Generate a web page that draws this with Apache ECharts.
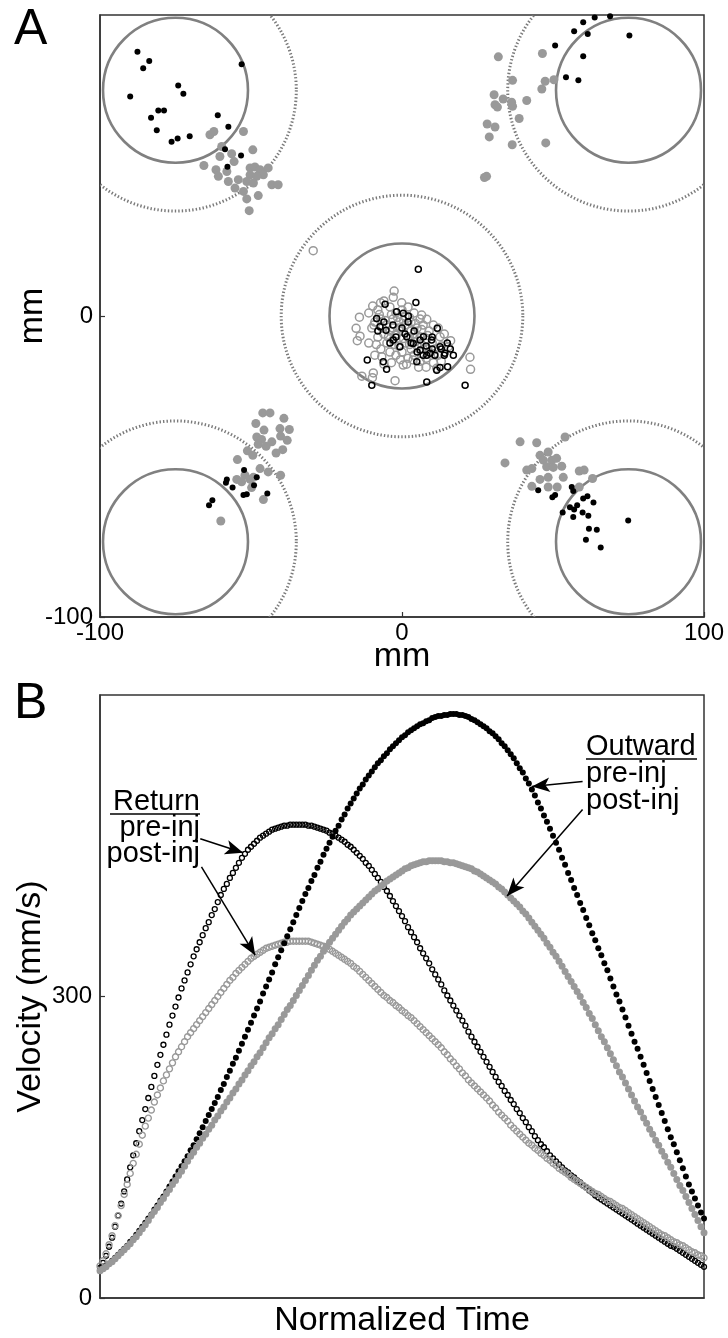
<!DOCTYPE html>
<html>
<head>
<meta charset="utf-8">
<script src="https://cdn.jsdelivr.net/npm/echarts@6.0.0/dist/echarts.min.js"></script>
<style>
    html, body { margin: 0; padding: 0; background: #fff; }
    #chart { width: 728px; height: 1338px; }
</style>
</head>
<body>
<div id="chart"></div>
<script>
// ---- panel A: targets (mm) ----
var targetX = [0, -75, 75, -75, 75];
var targetY = [0, 75, 75, -75, -75];
var targetRadius = 24;
var windowRadius = 40;

// movement endpoints at the outer targets, pre-injury (black) and post-injury (gray)
var outerPre = [
    [-87.6, 87.8], [-83.7, 84.7], [-85.7, 82.3], [-53.1, 83.6], [-74.1, 76.6], [-72.4, 73.8], [-90.0, 72.9],
    [-80.7, 68.3], [-78.8, 68.3], [-83.1, 65.9], [-61.0, 66.7], [-57.5, 62.9], [-81.2, 61.7], [-76.3, 57.9],
    [-74.3, 59.0], [-70.3, 59.7], [-58.6, 55.4], [-53.3, 53.3], [-57.8, 49.6],
    [50.7, 89.9], [57.0, 94.6], [60.0, 97.6], [63.8, 99.2], [68.9, 99.6], [61.5, 93.7], [75.3, 93.2],
    [60.0, 86.3], [54.3, 79.3], [58.4, 78.3],
    [-58.0, -54.3], [-58.3, -55.4], [-56.1, -57.0], [-52.3, -51.2], [-48.1, -53.6], [-49.0, -56.2],
    [-52.5, -59.5], [-51.4, -59.2], [-44.6, -59.0], [-62.8, -61.2], [-63.9, -62.9],
    [45.1, -57.9], [50.7, -59.5], [49.8, -60.2], [56.2, -56.8], [56.7, -58.1], [60.0, -60.6], [61.4, -59.9],
    [63.4, -62.0], [58.0, -62.9], [55.6, -63.5], [53.2, -65.3], [56.7, -66.8], [59.8, -65.3], [61.7, -66.4],
    [74.9, -67.9], [61.9, -70.7], [64.5, -71.0], [60.9, -74.3], [65.8, -76.9], [57.0, -64.3]
];
var outerPost = [
    [-63.6, 60.2], [-62.3, 61.3], [-52.5, 61.3], [-59.7, 56.3], [-49.4, 55.2], [-60.3, 53.0], [-56.4, 53.9],
    [-55.6, 51.3], [-65.6, 50.0], [-61.6, 48.6], [-58.0, 48.0], [-60.8, 46.4], [-50.3, 49.2], [-48.7, 49.5],
    [-47.0, 48.6], [-44.3, 49.2], [-45.9, 46.9], [-50.3, 46.9], [-48.1, 46.4], [-57.5, 44.7], [-54.2, 45.3],
    [-51.4, 44.7], [-49.2, 44.2], [-55.3, 42.5], [-52.5, 41.4], [-47.6, 40.0], [-51.4, 38.9], [-43.1, 43.6],
    [-41.0, 43.6], [-50.6, 35.0],
    [31.9, 86.1], [46.5, 87.2], [36.6, 78.3], [47.4, 78.0], [50.3, 78.5], [46.3, 75.4], [30.5, 73.5],
    [33.5, 72.1], [36.3, 71.0], [41.3, 71.6], [30.8, 70.2], [36.6, 69.7], [31.6, 69.4], [38.8, 65.6],
    [28.2, 63.8], [30.8, 62.8], [28.9, 59.5], [36.5, 56.9], [47.6, 57.5], [27.3, 46.0], [28.0, 46.4],
    [-46.1, -32.2], [-43.7, -32.2], [-48.4, -35.7], [-39.1, -34.0], [-45.7, -37.9], [-40.4, -37.4],
    [-37.3, -37.7], [-48.1, -40.2], [-46.5, -41.0], [-43.1, -41.8], [-40.2, -39.9], [-38.0, -41.3],
    [-47.6, -42.6], [-45.0, -43.3], [-39.5, -44.4], [-41.7, -45.5], [-51.2, -44.8], [-49.4, -46.3],
    [-54.5, -47.7], [-47.0, -50.7], [-44.3, -51.8], [-40.2, -52.9], [-54.7, -54.3], [-52.0, -52.9],
    [-50.3, -54.3], [-53.1, -55.1], [-49.2, -53.6], [-49.8, -57.0], [-45.9, -61.0], [-60.0, -68.1],
    [54.0, -40.2], [39.1, -41.8], [44.6, -42.1], [48.4, -45.2], [45.7, -46.3], [34.1, -48.8], [46.8, -47.9],
    [49.6, -47.9], [51.2, -47.3], [47.9, -50.1], [50.1, -50.3], [52.9, -49.9], [41.3, -51.2], [43.0, -50.7],
    [58.7, -51.5], [60.3, -51.2], [45.7, -54.3], [48.4, -53.6], [53.4, -53.6], [63.1, -54.0], [43.0, -56.6],
    [48.4, -56.8], [51.4, -56.8], [58.7, -56.8]
];

// return endpoints at the centre target
var centerPre = [
    [5.4, 15.5], [4.6, 4.5], [-5.6, 3.9], [-8.4, -0.8], [-5.3, -4.7], [-1.8, 1.4], [0.4, 0.9], [2.1, 0],
    [11.7, -4.1], [7.1, -6.9], [9.8, -8.0], [12.6, -10.2], [14.2, -12.4], [8.2, -13.0], [4.9, -15.2],
    [11.5, -18.0], [15.1, -16.9], [12.6, -17.1], [-11.5, -14.6], [-5.1, -17.7], [-6.2, -15.2], [-10.0, -23.0],
    [8.2, -21.9], [20.9, -23.0], [-2.9, -8.0], [-0.7, -10.2], [1.6, -6.9], [6.0, -11.3], [9.3, -12.4],
    [3.7, -9.1], [-7.3, -3.6], [10.9, -13.0],
    [-3, -3], [0, -4], [2, -2], [4, -5], [6, -8], [8, -10], [10, -11], [14, -13], [16, -11], [-6, -2],
    [-2, -7], [3, -9], [7, -13], [13, -11], [5, -12], [1, -6], [-4, -9], [15, -9], [-8, -5], [17, -13], [10, -7]
];
var centerPost = [
    [-29.4, 21.7], [-2.6, 8.3], [-2.9, 6.2], [-0.1, 4.4], [-9.7, 3.3], [-7.1, 4.4], [-14.1, -0.4],
    [-15.2, -4.1], [-13.9, -6.7], [-14.8, -8.2], [-9.3, -3.0], [6.5, 0.3], [8.2, -1.1], [10.4, -3.0],
    [12.6, -6.9], [16.1, -8.2], [15.3, -10.2], [22.5, -13.7], [22.7, -17.7], [-2.3, -21.5], [-13.3, -20.0],
    [-9.5, -18.9], [-9.8, -20.5], [0.4, -16.3], [-6.7, -13.5], [10.4, -15.5], [11.5, -17.4], [3.7, -14.6],
    [-8, 2], [-6, 5], [-4, 3], [-2, 1], [0, 2], [2, 3], [4, 1], [6, -1], [-9, -2], [-7, -1], [-5, -3],
    [-3, -1], [-1, -2], [1, -3], [3, -2], [5, -4], [7, -3], [9, -5], [-6, -6], [-4, -5], [-2, -6], [0, -5],
    [2, -7], [4, -6], [6, -7], [8, -8], [10, -9], [-5, -9], [-3, -8], [-1, -10], [1, -9], [3, -11], [5, -10],
    [7, -11], [9, -12], [11, -11], [13, -10], [-7, -11], [-4, -12], [-2, -13], [0, -12], [2, -14], [4, -13],
    [6, -15], [8, -14], [12, -13], [-1, -4], [1, 0], [3, -5], [-3, -4], [5, -7], [-8, -7], [-10, -4],
    [14, -6], [12, -4], [-6, -16], [8, -17], [13, -15], [-11, -9], [-11, 1],
    [-7.5, 0.5], [-5.5, -1.5], [-3.5, 0.5], [-1.5, -0.5], [0.5, -1.5], [2.5, -0.5], [4.5, -2.5], [6.5, -4.5],
    [8.5, -6.5], [-6.5, -4], [-4.5, -7], [-2.5, -9.5], [0.5, -7.5], [2.5, -9.5], [4.5, -8.5], [6.5, -9.5],
    [8.5, -11], [10.5, -12.5], [-0.5, -14.5], [-3.5, -15.5], [1.5, -16], [5.5, -17], [-8.5, -9.5], [-9, -13]
];

// ---- panel B: velocity profiles (mm/s), evenly sampled over normalized time ----
var outwardPre = [
    27, 29, 32, 34, 37, 40, 43, 46, 49, 52, 56, 59, 63, 67, 71, 75, 79, 83, 88, 92,
    97, 101, 106, 111, 116, 121, 126, 131, 136, 141, 147, 152, 158, 164, 170, 176, 182, 188, 194, 200,
    207, 213, 220, 226, 233, 239, 246, 253, 260, 267, 274, 281, 288, 295, 303, 310, 317, 324, 332, 339,
    346, 353, 360, 367, 374, 381, 388, 395, 402, 408, 415, 421, 428, 434, 441, 447, 453, 459, 465, 470,
    476, 481, 487, 492, 497, 502, 507, 511, 516, 520, 524, 528, 532, 535, 539, 542, 546, 549, 552, 555,
    558, 560, 563, 565, 567, 569, 571, 572, 574, 575, 577, 578, 579, 579, 580, 580, 581, 581, 581, 580,
    580, 579, 578, 576, 575, 573, 571, 569, 567, 564, 562, 559, 556, 552, 549, 545, 541, 537, 532, 527,
    523, 517, 512, 506, 500, 493, 487, 480, 474, 467, 460, 453, 446, 438, 431, 423, 416, 408, 401, 393,
    386, 378, 371, 363, 356, 348, 341, 333, 326, 318, 310, 302, 295, 287, 279, 271, 263, 255, 248, 240,
    232, 224, 216, 208, 200, 192, 184, 176, 168, 160, 153, 145, 137, 129, 121, 113, 106, 99, 92, 85,
    79
];
var outwardPost = [
    27, 29, 31, 34, 36, 39, 42, 45, 48, 51, 54, 58, 61, 65, 69, 73, 77, 82, 86, 90,
    95, 99, 104, 108, 113, 117, 122, 126, 131, 136, 141, 145, 150, 154, 159, 163, 168, 172, 177, 181,
    186, 190, 195, 199, 204, 208, 213, 217, 222, 226, 231, 235, 240, 244, 249, 254, 259, 263, 268, 272,
    277, 282, 287, 291, 296, 301, 306, 311, 316, 321, 326, 331, 336, 340, 345, 350, 354, 358, 362, 366,
    370, 374, 377, 381, 384, 387, 390, 393, 396, 399, 402, 405, 407, 410, 412, 415, 417, 419, 421, 423,
    425, 427, 428, 430, 431, 432, 433, 434, 434, 435, 435, 435, 435, 435, 434, 434, 433, 433, 432, 431,
    430, 429, 428, 427, 425, 424, 422, 420, 418, 416, 414, 412, 409, 407, 404, 401, 398, 395, 392, 389,
    385, 382, 378, 374, 370, 366, 362, 358, 353, 349, 344, 340, 335, 330, 325, 320, 315, 310, 305, 300,
    294, 289, 283, 278, 272, 266, 260, 255, 249, 243, 237, 231, 225, 220, 214, 208, 202, 196, 190, 185,
    179, 174, 168, 163, 157, 152, 146, 141, 135, 130, 124, 118, 112, 107, 101, 95, 89, 83, 77, 71,
    65
];
var returnPre = [
    30, 35, 42, 51, 60, 71, 82, 94, 106, 118, 130, 142, 154, 166, 177, 188, 199, 210, 221, 232,
    242, 252, 262, 272, 281, 290, 299, 308, 316, 324, 332, 340, 347, 354, 361, 368, 374, 381, 387, 394,
    401, 407, 412, 418, 423, 428, 433, 438, 442, 446, 449, 452, 455, 458, 460, 462, 464, 466, 467, 468,
    469, 470, 470, 471, 471, 471, 471, 471, 471, 470, 470, 469, 468, 467, 466, 465, 463, 462, 460, 458,
    456, 454, 451, 449, 446, 443, 440, 437, 433, 430, 426, 422, 418, 414, 409, 405, 400, 395, 390, 385,
    380, 375, 369, 364, 359, 354, 348, 343, 338, 333, 327, 322, 317, 312, 306, 301, 296, 291, 286, 281,
    276, 271, 265, 260, 255, 250, 245, 240, 235, 230, 225, 220, 215, 211, 206, 202, 197, 193, 188, 184,
    179, 175, 170, 166, 161, 157, 153, 150, 146, 142, 139, 136, 133, 130, 127, 125, 122, 120, 117, 115,
    112, 110, 107, 105, 102, 100, 98, 96, 94, 92, 90, 88, 86, 84, 82, 80, 78, 76, 74, 72,
    70, 68, 66, 64, 62, 60, 58, 56, 54, 52, 51, 49, 47, 45, 43, 41, 39, 37, 35, 33,
    31
];
var returnPost = [
    32, 37, 44, 53, 62, 72, 82, 92, 103, 113, 124, 134, 143, 153, 162, 171, 179, 187, 195, 202,
    209, 216, 222, 228, 234, 240, 245, 250, 255, 260, 264, 268, 272, 276, 280, 284, 288, 292, 296, 300,
    304, 308, 312, 316, 319, 323, 326, 329, 332, 335, 338, 340, 342, 344, 346, 348, 349, 350, 351, 352,
    353, 354, 354, 355, 355, 355, 355, 355, 355, 355, 354, 353, 352, 351, 350, 349, 347, 345, 343, 341,
    339, 337, 335, 333, 330, 328, 325, 322, 319, 316, 313, 310, 307, 304, 301, 299, 296, 294, 291, 289,
    286, 284, 281, 279, 276, 273, 270, 267, 264, 261, 258, 255, 252, 249, 245, 242, 238, 235, 231, 228,
    224, 221, 217, 214, 211, 208, 205, 202, 199, 196, 192, 189, 185, 182, 179, 176, 172, 169, 166, 163,
    160, 157, 154, 152, 149, 147, 144, 142, 139, 137, 134, 132, 129, 127, 125, 123, 120, 118, 116, 114,
    112, 110, 108, 106, 104, 103, 101, 99, 97, 96, 94, 92, 90, 89, 87, 85, 83, 81, 79, 77,
    75, 73, 71, 69, 67, 65, 63, 62, 60, 58, 56, 55, 53, 52, 50, 48, 46, 45, 43, 42,
    40
];

// arrows of the panel B labels: [tail, head] in (normalized time, mm/s)
var returnPreArrow = [[0.166, 457], [0.237, 443]];
var returnPostArrow = [[0.168, 429], [0.257, 341]];
var outwardPreArrow = [[0.799, 514], [0.715, 509]];
var outwardPostArrow = [[0.799, 486], [0.674, 400]];

var GRAY = '#999999';
var FONT = 'Liberation Sans';

var timeSteps = outwardPre.map(function (v, i) { return i / (outwardPre.length - 1); });
function withTime(values) {
    return values.map(function (v, i) { return [timeSteps[i], v]; });
}
function ringData(radius) {
    return targetX.map(function (x, i) { return [x, targetY[i], radius]; });
}
function ringRenderer(style) {
    return function (params, api) {
        var c = api.coord([api.value(0), api.value(1)]);
        var r = api.size([api.value(2), 0])[0];
        return {
            type: 'circle',
            shape: { cx: c[0], cy: c[1], r: r },
            style: Object.assign({ fill: 'none' }, style)
        };
    };
}
function arrowLine(arrow) {
    return {
        silent: true,
        animation: false,
        symbol: ['none', 'arrow'],
        symbolSize: [11, 18],
        label: { show: false },
        lineStyle: { color: '#000', width: 1.5, type: 'solid' },
        emphasis: { disabled: true },
        data: [[{ coord: arrow[0] }, { coord: arrow[1] }]]
    };
}

var axisLineStyle = { onZero: false, lineStyle: { color: '#333', width: 1.5 } };
var tickStyle = { inside: true, length: 5, lineStyle: { color: '#333', width: 1.2 } };

var myChart = echarts.init(document.getElementById('chart'));
var option = {
    animation: false,
    backgroundColor: '#fff',
    textStyle: { fontFamily: FONT, color: '#000' },
    grid: [
        { left: 100, top: 15, width: 604, height: 602, outerBoundsMode: 'none', containLabel: false, show: true, borderColor: '#333', borderWidth: 1.5, backgroundColor: 'transparent' },
        { left: 100, top: 695, width: 604, height: 603, outerBoundsMode: 'none', containLabel: false, show: true, borderColor: '#333', borderWidth: 1.5, backgroundColor: 'transparent' }
    ],
    xAxis: [
        {
            type: 'value', gridIndex: 0, min: -100, max: 100, interval: 100,
            axisLine: axisLineStyle, axisTick: tickStyle, splitLine: { show: false },
            axisLabel: { fontSize: 24, color: '#000', margin: 4 },
            name: 'mm', nameLocation: 'middle', nameGap: 23, nameMoveOverlap: false,
            nameTextStyle: { fontSize: 34, color: '#000' }
        },
        {
            type: 'value', gridIndex: 1, min: 0, max: 1,
            axisLine: axisLineStyle, axisTick: { show: false }, splitLine: { show: false },
            axisLabel: { show: false },
            name: 'Normalized Time', nameLocation: 'middle', nameGap: 6, nameMoveOverlap: false,
            nameTextStyle: { fontSize: 34, color: '#000' }
        }
    ],
    yAxis: [
        {
            type: 'value', gridIndex: 0, min: -100, max: 100, interval: 100,
            axisLine: axisLineStyle, axisTick: tickStyle, splitLine: { show: false },
            axisLabel: { fontSize: 24, color: '#000', margin: 7, showMaxLabel: false },
            name: 'mm', nameLocation: 'middle', nameGap: 50, nameRotate: 90, nameMoveOverlap: false,
            nameTextStyle: { fontSize: 34, color: '#000' }
        },
        {
            type: 'value', gridIndex: 1, min: 0, max: 600, interval: 300,
            axisLine: axisLineStyle, axisTick: tickStyle, splitLine: { show: false },
            axisLabel: { fontSize: 24, color: '#000', margin: 8, showMaxLabel: false },
            name: 'Velocity (mm/s)', nameLocation: 'middle', nameGap: 52, nameRotate: 90, nameMoveOverlap: false,
            nameTextStyle: { fontSize: 34, color: '#000' }
        }
    ],
    graphic: [
        { type: 'text', left: 14, top: 5, style: { text: 'A', font: '50px ' + FONT, fill: '#000' } },
        { type: 'text', left: 14, top: 679, style: { text: 'B', font: '50px ' + FONT, fill: '#000' } },
        { type: 'text', x: 200, y: 802, style: { text: 'Return', font: '29px ' + FONT, fill: '#000', align: 'right', verticalAlign: 'middle' } },
        { type: 'line', shape: { x1: 110, y1: 814, x2: 200, y2: 814 }, style: { stroke: '#000', lineWidth: 1.5 } },
        { type: 'text', x: 200, y: 828, style: { text: 'pre-inj', font: '29px ' + FONT, fill: '#000', align: 'right', verticalAlign: 'middle' } },
        { type: 'text', x: 200, y: 854, style: { text: 'post-inj', font: '29px ' + FONT, fill: '#000', align: 'right', verticalAlign: 'middle' } },
        { type: 'text', x: 586, y: 747, style: { text: 'Outward', font: '29px ' + FONT, fill: '#000', align: 'left', verticalAlign: 'middle' } },
        { type: 'line', shape: { x1: 586, y1: 759, x2: 697, y2: 759 }, style: { stroke: '#000', lineWidth: 1.5 } },
        { type: 'text', x: 586, y: 774, style: { text: 'pre-inj', font: '29px ' + FONT, fill: '#000', align: 'left', verticalAlign: 'middle' } },
        { type: 'text', x: 586, y: 801, style: { text: 'post-inj', font: '29px ' + FONT, fill: '#000', align: 'left', verticalAlign: 'middle' } }
    ],
    series: [
        // panel A
        {
            type: 'custom', xAxisIndex: 0, yAxisIndex: 0, clip: true, silent: true,
            renderItem: ringRenderer({ stroke: '#7a7a7a', lineWidth: 3, lineDash: [1.4, 2.1] }),
            data: ringData(windowRadius)
        },
        {
            type: 'custom', xAxisIndex: 0, yAxisIndex: 0, clip: true, silent: true,
            renderItem: ringRenderer({ stroke: '#808080', lineWidth: 2.6 }),
            data: ringData(targetRadius)
        },
        {
            type: 'scatter', xAxisIndex: 0, yAxisIndex: 0, symbolSize: 9,
            itemStyle: { color: GRAY, opacity: 1 }, emphasis: { disabled: true },
            data: outerPost
        },
        {
            type: 'scatter', xAxisIndex: 0, yAxisIndex: 0, symbolSize: 6,
            itemStyle: { color: '#000', opacity: 1 }, emphasis: { disabled: true },
            data: outerPre
        },
        {
            type: 'scatter', xAxisIndex: 0, yAxisIndex: 0, symbolSize: 8,
            itemStyle: { color: 'rgba(0,0,0,0)', borderColor: GRAY, borderWidth: 1.5, opacity: 1 },
            emphasis: { disabled: true },
            data: centerPost
        },
        {
            type: 'scatter', xAxisIndex: 0, yAxisIndex: 0, symbolSize: 6,
            itemStyle: { color: 'rgba(0,0,0,0)', borderColor: '#000', borderWidth: 1.5, opacity: 1 },
            emphasis: { disabled: true },
            data: centerPre
        },
        // panel B
        {
            type: 'scatter', xAxisIndex: 1, yAxisIndex: 1, symbolSize: 5,
            itemStyle: { color: 'rgba(0,0,0,0)', borderColor: '#000', borderWidth: 1.3, opacity: 1 },
            emphasis: { disabled: true },
            data: withTime(returnPre),
            markLine: arrowLine(returnPreArrow)
        },
        {
            type: 'scatter', xAxisIndex: 1, yAxisIndex: 1, symbolSize: 6,
            itemStyle: { color: 'rgba(0,0,0,0)', borderColor: GRAY, borderWidth: 1.4, opacity: 1 },
            emphasis: { disabled: true },
            data: withTime(returnPost),
            markLine: arrowLine(returnPostArrow)
        },
        {
            type: 'scatter', xAxisIndex: 1, yAxisIndex: 1, symbolSize: 6,
            itemStyle: { color: '#000', opacity: 1 }, emphasis: { disabled: true },
            data: withTime(outwardPre),
            markLine: arrowLine(outwardPreArrow)
        },
        {
            type: 'scatter', xAxisIndex: 1, yAxisIndex: 1, symbolSize: 7,
            itemStyle: { color: GRAY, opacity: 1 }, emphasis: { disabled: true },
            data: withTime(outwardPost),
            markLine: arrowLine(outwardPostArrow)
        }
    ]
};
myChart.setOption(option, true);
</script>
</body>
</html>
